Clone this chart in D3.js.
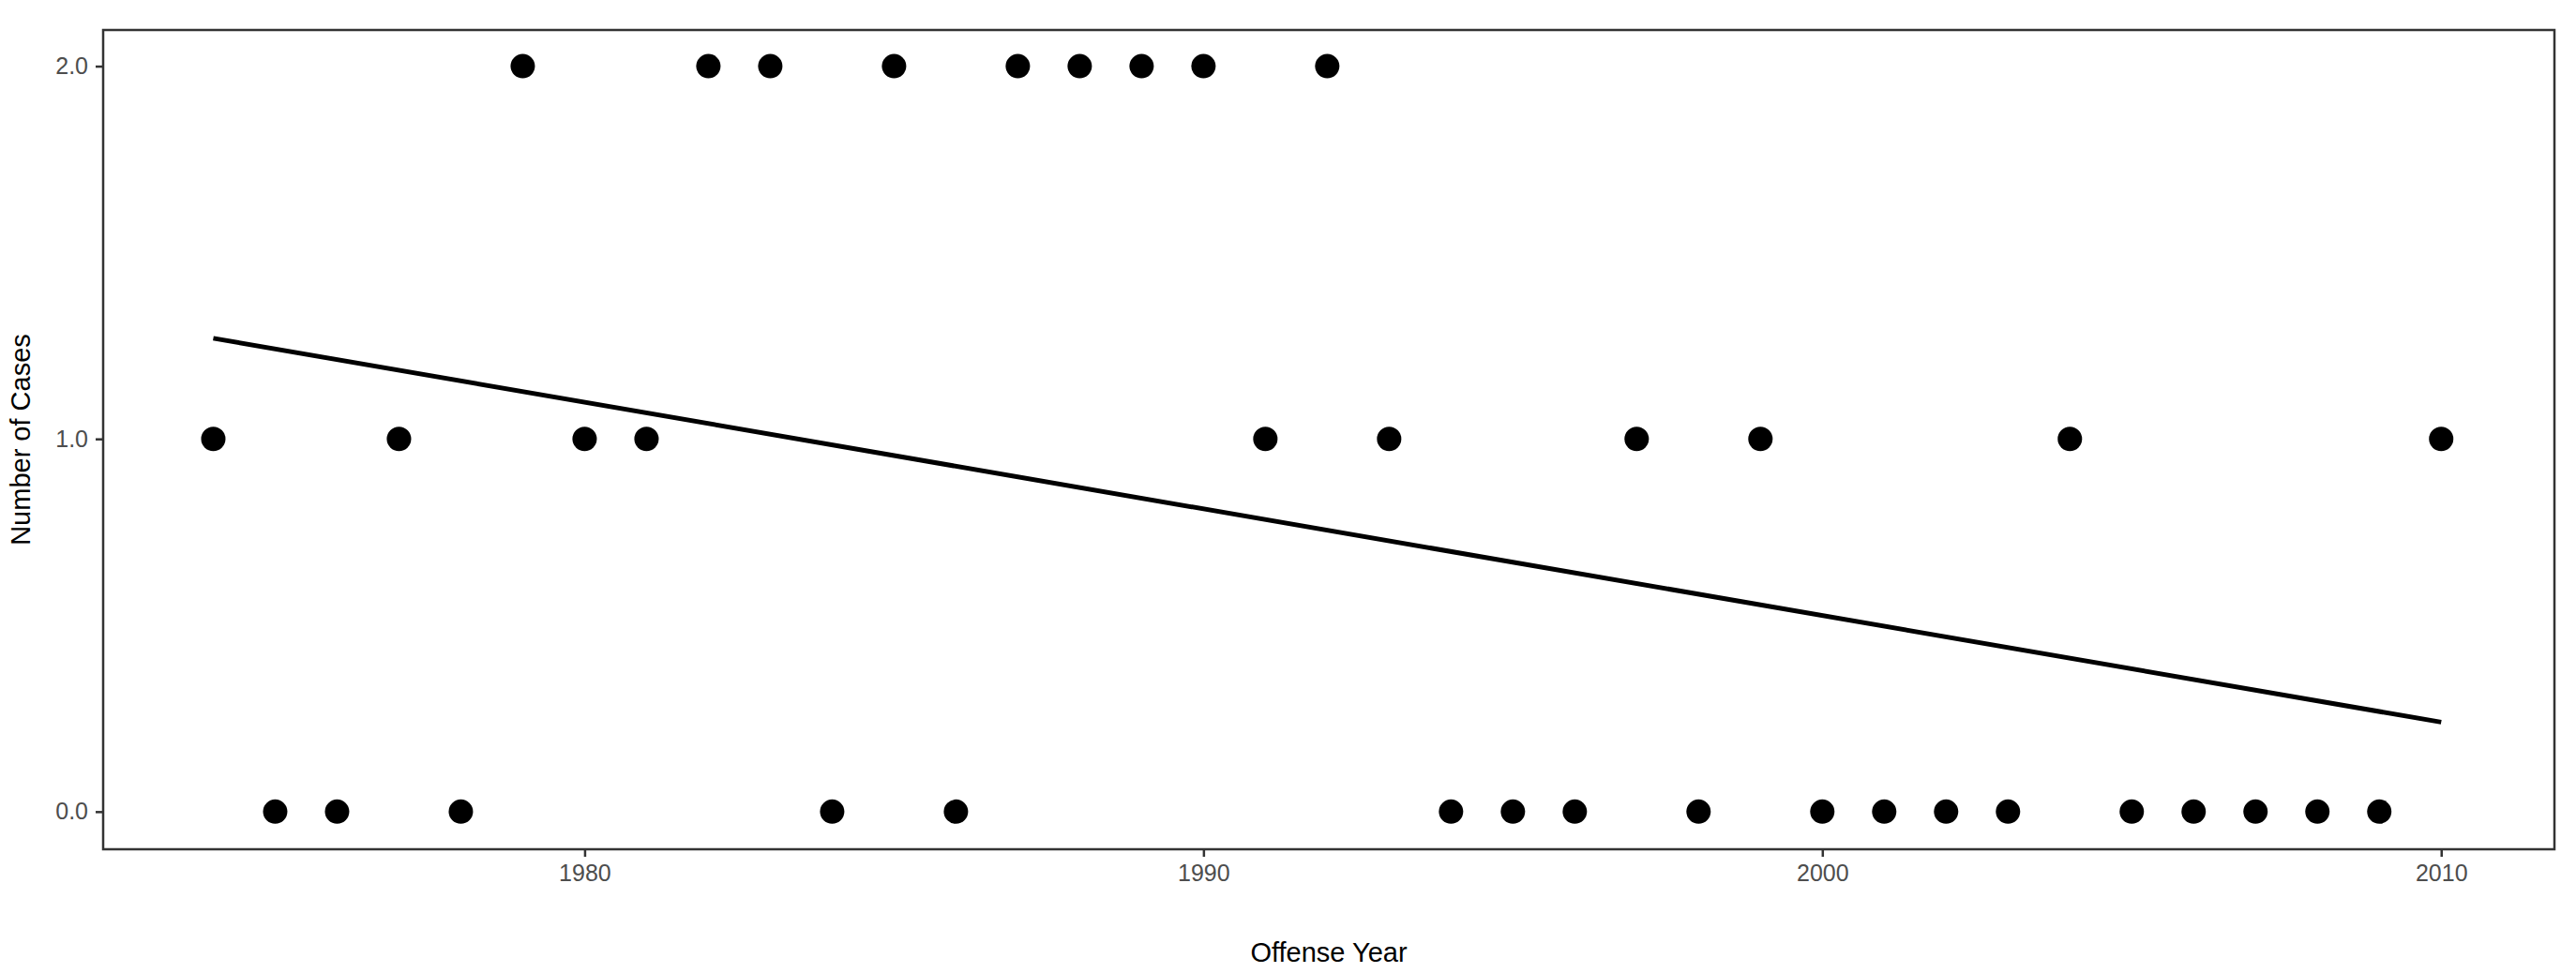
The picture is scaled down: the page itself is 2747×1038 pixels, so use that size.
<!DOCTYPE html>
<html><head><meta charset="utf-8">
<script src="https://cdn.jsdelivr.net/npm/d3@7"></script>
<style>body{margin:0;background:#fff}svg{display:block}</style></head>
<body><script>
const years=[1974,1975,1976,1977,1978,1979,1980,1981,1982,1983,1984,1985,1986,1987,1988,1989,1990,1991,1992,1993,1994,1995,1996,1997,1998,1999,2000,2001,2002,2003,2004,2005,2006,2007,2008,2009,2010];
const cases=[1,0,0,1,0,2,1,1,2,2,0,2,0,2,2,2,2,1,2,1,0,0,0,1,0,1,0,0,0,0,1,0,0,0,0,0,1];
const trendYears=[1974,2010];
const trendValues=[1.27,0.24];
const xTicks=[1980,1990,2000,2010];
const yTicks=[0,1,2];

const W=2747,H=1038,m={l:110,r:23,t:32,b:132};
const svg=d3.select("body").append("svg").attr("width",W).attr("height",H);
const x=d3.scaleLinear().domain([1972.22,2011.83]).range([m.l,W-m.r]);
const y=d3.scaleLinear().domain([-0.101,2.097]).range([H-m.b,m.t]);
const g=svg.append("g");
g.selectAll("circle").data(years).join("circle")
 .attr("cx",d=>x(d)).attr("cy",(d,i)=>y(cases[i])).attr("r",13).attr("fill","#000");
g.append("path").datum(trendYears).attr("fill","none").attr("stroke","#000").attr("stroke-width",5)
 .attr("d",d3.line().x(d=>x(d)).y((d,i)=>y(trendValues[i])));
svg.append("rect").attr("x",m.l).attr("y",m.t).attr("width",W-m.l-m.r).attr("height",H-m.t-m.b)
 .attr("fill","none").attr("stroke","#333").attr("stroke-width",2.5);
const xa=svg.append("g").attr("transform",`translate(0,${H-m.b})`).call(d3.axisBottom(x).tickValues(xTicks).tickFormat(d3.format("d")).tickSize(8).tickPadding(8));
const ya=svg.append("g").attr("transform",`translate(${m.l},0)`).call(d3.axisLeft(y).tickValues(yTicks).tickSize(8).tickPadding(8));
[xa,ya].forEach(a=>{a.select(".domain").remove();a.selectAll("line").attr("stroke","#333").attr("stroke-width",2.5);
 a.selectAll("text").attr("fill","#4d4d4d").style("font-family","Liberation Sans, Arial, sans-serif").style("font-size","25px");});
svg.append("text").attr("x",(m.l+W-m.r)/2).attr("y",H-12).attr("text-anchor","middle")
 .style("font-family","Liberation Sans, Arial, sans-serif").style("font-size","29px").text("Offense Year");
svg.append("text").attr("transform",`translate(32,${(m.t+H-m.b)/2}) rotate(-90)`).attr("text-anchor","middle")
 .style("font-family","Liberation Sans, Arial, sans-serif").style("font-size","29px").text("Number of Cases");
</script></body></html>
